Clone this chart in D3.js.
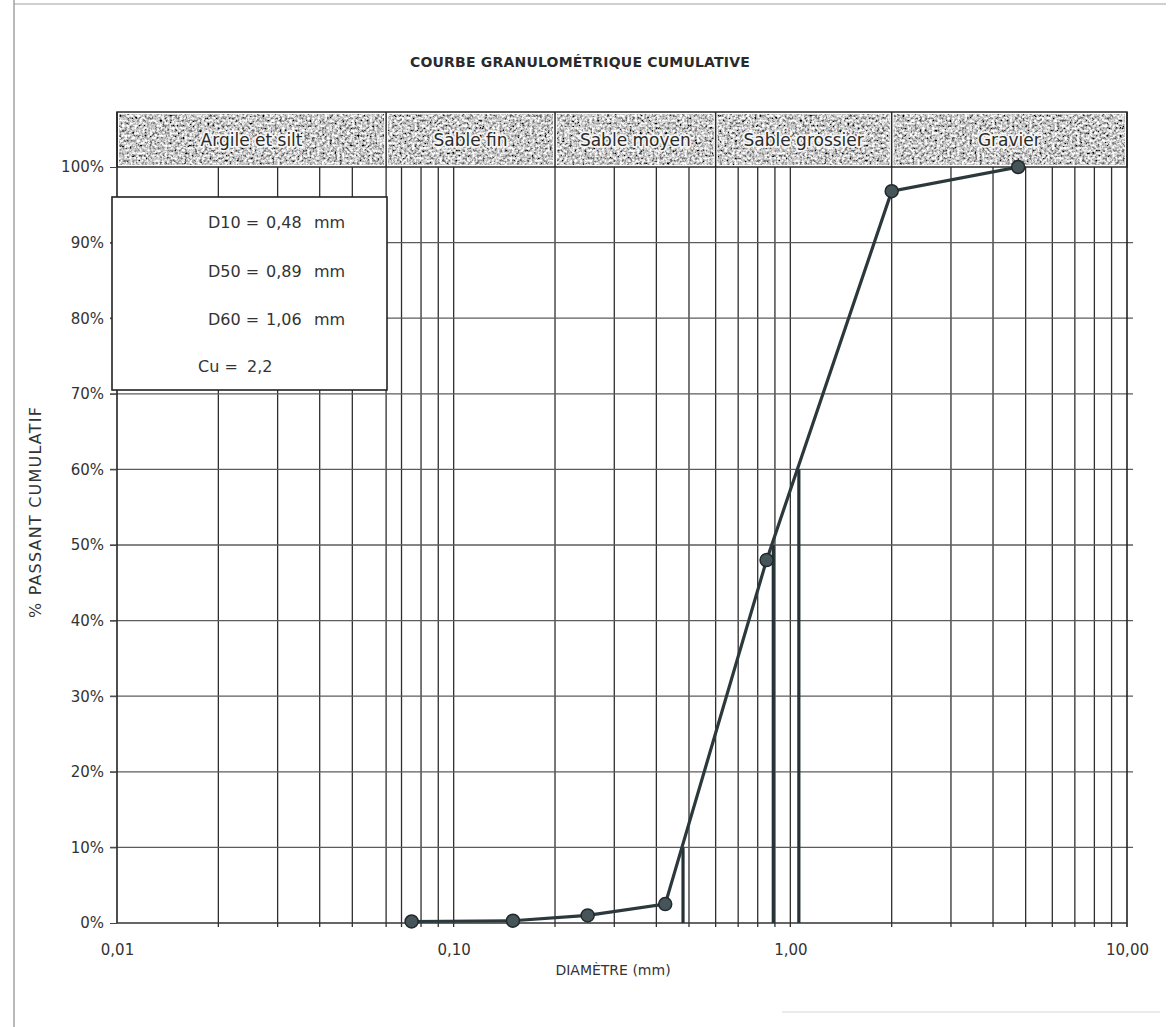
<!DOCTYPE html>
<html>
<head>
<meta charset="utf-8">
<script src="https://cdn.jsdelivr.net/npm/d3@7"></script>
<style>
  body { margin: 0; background: #fff; }
  svg { display: block; }
  text { font-family: "DejaVu Sans", sans-serif; fill: #333; }
</style>
</head>
<body>
<svg id="chart" width="1168" height="1027"></svg>
<script>
// Sieve analysis: cumulative passing (%) per sieve opening (mm)
const sieveSizes  = [0.075, 0.15, 0.25, 0.425, 0.85, 2.0, 4.75];
const passingPct  = [0.2, 0.3, 1.0, 2.5, 48, 96.8, 100];

// Soil classes (bounds in mm) shown in the top band
const classBounds = [0.01, 0.063, 0.2, 0.6, 2, 10];
const classNames  = ["Argile et silt", "Sable fin", "Sable moyen", "Sable grossier", "Gravier"];

// Characteristic diameters
const dLabels  = ["D10", "D50", "D60"];
const dPercent = [10, 50, 60];
const dValues  = [0.48, 0.89, 1.06];
const dTexts   = ["0,48", "0,89", "1,06"];
const cuText   = "2,2";

// Axis ticks
const yTickValues = [0, 10, 20, 30, 40, 50, 60, 70, 80, 90, 100];
const yTickLabels = ["0%", "10%", "20%", "30%", "40%", "50%", "60%", "70%", "80%", "90%", "100%"];
const xTickValues = [0.01, 0.1, 1, 10];
const xTickLabels = ["0,01", "0,10", "1,00", "10,00"];

const svg = d3.select("#chart");
const L = 117, R = 1127, B = 923, T100 = 167, HT = 112;

const x = d3.scaleLog().domain([0.01, 10]).range([L, R]);
const y = d3.scaleLinear().domain([0, 100]).range([B, T100]);

// grain texture for the class band
const defs = svg.append("defs");
const f = defs.append("filter").attr("id", "grain")
  .attr("x", 0).attr("y", 0).attr("width", 1).attr("height", 1);
f.append("feTurbulence").attr("type", "fractalNoise").attr("baseFrequency", 0.4)
  .attr("numOctaves", 3).attr("seed", 11).attr("result", "noise");
f.append("feColorMatrix").attr("in", "noise").attr("type", "matrix")
  .attr("values", "2.0 0 0 0 -0.42  2.0 0 0 0 -0.42  2.0 0 0 0 -0.42  0 0 0 0 1")
  .attr("result", "gray");
f.append("feComposite").attr("in", "gray").attr("in2", "SourceGraphic").attr("operator", "in");

// page frame
svg.append("line").attr("x1", 14).attr("x2", 14).attr("y1", 0).attr("y2", 1027)
  .attr("stroke", "#8a8a8a").attr("stroke-width", 1.2);
svg.append("line").attr("x1", 14).attr("x2", 1166).attr("y1", 4).attr("y2", 4)
  .attr("stroke", "#a0a0a0").attr("stroke-width", 1.2);
svg.append("line").attr("x1", 782).attr("x2", 1160).attr("y1", 1012).attr("y2", 1012)
  .attr("stroke", "#d8d8d8").attr("stroke-width", 1);

// title
svg.append("text").attr("x", 580).attr("y", 67).attr("text-anchor", "middle")
  .style("font-size", "14px").style("font-weight", "bold").style("fill", "#2a2a2a")
  .style("letter-spacing", "0.2px")
  .text("COURBE GRANULOMÉTRIQUE CUMULATIVE");

// vertical grid: log minor ticks, plus class bounds
const gridVals = x.ticks(40).filter(v => {
  const near = classBounds.some(b => b !== v && Math.abs(Math.log10(v) - Math.log10(b)) < 0.03);
  return !near && v > 0.01 && v < 10;
});
const vLines = Array.from(new Set(gridVals.concat(classBounds.slice(1, -1))));
svg.append("g").selectAll("line").data(vLines).join("line")
  .attr("x1", d => x(d)).attr("x2", d => x(d))
  .attr("y1", T100).attr("y2", B + 4)
  .attr("stroke", "#2f2f2f").attr("stroke-width", 1.3);

// horizontal grid
svg.append("g").selectAll("line").data(yTickValues.slice(1, -1)).join("line")
  .attr("x1", L - 7).attr("x2", R + 6)
  .attr("y1", d => y(d)).attr("y2", d => y(d))
  .attr("stroke", "#5c5c5c").attr("stroke-width", 1.3);

// class band
const band = svg.append("g");
classNames.forEach((name, i) => {
  const x0 = x(classBounds[i]), x1 = x(classBounds[i + 1]);
  band.append("rect").attr("x", x0 + 2).attr("y", HT + 2)
    .attr("width", x1 - x0 - 4).attr("height", T100 - HT - 4)
    .attr("fill", "#999").attr("filter", "url(#grain)");
  band.append("text").attr("x", (x0 + x1) / 2).attr("y", (HT + T100) / 2 + 6)
    .attr("text-anchor", "middle")
    .style("font-size", "17px")
    .style("fill", "#2a2a2a").style("stroke", "#f6f6f6").style("stroke-width", 3.5)
    .style("paint-order", "stroke").style("stroke-linejoin", "round")
    .text(name);
});
band.append("rect").attr("x", L).attr("y", HT).attr("width", R - L).attr("height", T100 - HT)
  .attr("fill", "none").attr("stroke", "#2a2a2a").attr("stroke-width", 1.5);
band.selectAll("line.div").data(classBounds.slice(1, -1)).join("line")
  .attr("x1", d => x(d)).attr("x2", d => x(d)).attr("y1", HT).attr("y2", T100)
  .attr("stroke", "#2a2a2a").attr("stroke-width", 1.5);

// axes frame
svg.append("line").attr("x1", L).attr("x2", L).attr("y1", HT).attr("y2", B)
  .attr("stroke", "#222").attr("stroke-width", 1.6);
svg.append("line").attr("x1", R).attr("x2", R).attr("y1", HT).attr("y2", B + 4)
  .attr("stroke", "#222").attr("stroke-width", 1.6);
svg.append("line").attr("x1", L).attr("x2", R).attr("y1", B).attr("y2", B)
  .attr("stroke", "#333").attr("stroke-width", 1.6);

// y axis
const yAxis = d3.axisLeft(y).tickValues(yTickValues)
  .tickFormat((d, i) => yTickLabels[i]).tickSize(7).tickPadding(6);
const gy = svg.append("g").attr("transform", `translate(${L},0)`).call(yAxis);
gy.select(".domain").remove();
gy.selectAll(".tick line").attr("stroke", "#444");
gy.selectAll(".tick text").style("font-family", "DejaVu Sans").style("font-size", "15px").attr("fill", "#333");

// x axis labels
const xAxis = d3.axisBottom(x).tickValues(xTickValues)
  .tickFormat((d, i) => xTickLabels[i]).tickSize(0).tickPadding(21);
const gx = svg.append("g").attr("transform", `translate(0,${B})`).call(xAxis);
gx.select(".domain").remove();
gx.selectAll(".tick text").style("font-family", "DejaVu Sans").style("font-size", "15px").attr("fill", "#333");

svg.append("text").attr("x", 613).attr("y", 975).attr("text-anchor", "middle")
  .style("font-size", "14px").text("DIAMÈTRE (mm)");
svg.append("text").attr("transform", "translate(41,512) rotate(-90)").attr("text-anchor", "middle")
  .style("font-size", "16px").style("letter-spacing", "1.2px").text("% PASSANT CUMULATIF");

// D-lines
svg.append("g").selectAll("line").data(dValues).join("line")
  .attr("x1", d => x(d)).attr("x2", d => x(d))
  .attr("y1", B).attr("y2", (d, i) => y(dPercent[i]))
  .attr("stroke", "#263236").attr("stroke-width", 3.2);

// curve
const pts = sieveSizes.map((s, i) => [s, passingPct[i]]);
svg.append("path").datum(pts)
  .attr("d", d3.line().x(d => x(d[0])).y(d => y(d[1])))
  .attr("fill", "none").attr("stroke", "#2b383c").attr("stroke-width", 3.2);
svg.append("g").selectAll("circle").data(pts).join("circle")
  .attr("cx", d => x(d[0])).attr("cy", d => y(d[1])).attr("r", 6.5)
  .attr("fill", "#46555a").attr("stroke", "#22292c").attr("stroke-width", 1.5);

// characteristics box
const bx = 112, by = 197, bw = 275, bh = 193;
svg.append("rect").attr("x", bx).attr("y", by).attr("width", bw).attr("height", bh)
  .attr("fill", "#fff").attr("stroke", "#222").attr("stroke-width", 1.6);
const rowY = [228, 277, 325];
dLabels.forEach((lab, i) => {
  svg.append("text").attr("x", 208).attr("y", rowY[i]).style("font-size", "16px").text(lab + " =");
  svg.append("text").attr("x", 266).attr("y", rowY[i]).style("font-size", "16px").text(dTexts[i]);
  svg.append("text").attr("x", 314).attr("y", rowY[i]).style("font-size", "16px").text("mm");
});
svg.append("text").attr("x", 198).attr("y", 372).style("font-size", "16px").text("Cu =");
svg.append("text").attr("x", 247).attr("y", 372).style("font-size", "16px").text(cuText);
</script>
</body>
</html>
